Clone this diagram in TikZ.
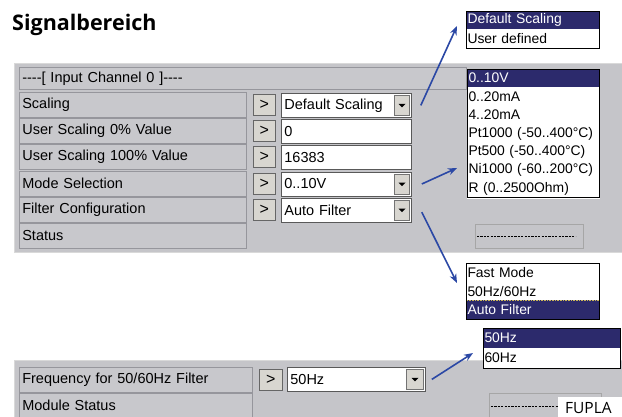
\documentclass[tikz,border=0pt]{standalone}
\usepackage{fontspec}
\setmainfont{Liberation Sans}
\newfontfamily\titlefont{Open Sans}
\usetikzlibrary{arrows.meta}
\definecolor{panelgray}{RGB}{197,197,201}
\definecolor{cellgray}{RGB}{200,200,204}
\definecolor{cellline}{RGB}{150,150,156}
\definecolor{btngray}{RGB}{216,214,208}
\definecolor{selblue}{RGB}{44,42,108}
\definecolor{arrowblue}{RGB}{43,72,165}
\definecolor{focusdot}{RGB}{200,180,90}
\begin{document}
\begin{tikzpicture}[x=1pt,y=-1pt,
  ui/.style={font=\fontsize{14.5}{16}\selectfont},
  popfont/.style={font=\fontsize{13.9}{16}\selectfont},
  lab/.style={ui, draw=cellline, fill=cellgray, line width=0.6pt, anchor=north west,
    minimum height=25pt, inner xsep=3pt, inner ysep=0pt, text width=#1, align=left},
  btn/.style={font=\fontsize{16}{16}\selectfont, draw=black!60, fill=btngray, line width=0.6pt, anchor=north west,
    minimum width=22pt, minimum height=21pt, inner sep=0pt},
  field/.style={ui, draw=black!65, fill=white, line width=0.8pt, anchor=north west,
    minimum height=24pt, inner xsep=3pt, inner ysep=0pt, text width=#1, align=left},
  ddbtn/.style={draw=black!55, fill=btngray, line width=0.6pt, anchor=east,
    minimum width=15pt, minimum height=20pt, inner sep=0pt},
  pop/.style={popfont, anchor=north west, inner xsep=1.5pt, inner ysep=0pt, text width=#1,
    align=left, minimum height=18.5pt, outer sep=0pt},
  plain/.style={fill=white, draw=white, line width=0.5pt},
  sel/.style={fill=selblue, text=white, draw=focusdot, densely dotted, line width=0.6pt},
  statbox/.style={draw=black!35, fill=panelgray, line width=0.6pt, anchor=north west, inner sep=0pt},
  arr/.style={draw=arrowblue, line width=1.6pt, -{Stealth[length=9pt,width=7pt]}}
]
\useasboundingbox (0,0) rectangle (622,416);
\clip (0,0) rectangle (622,416);
\fill[white] (0,0) rectangle (622,416);

% title
\node[anchor=base west, inner sep=0pt, font=\titlefont\bfseries\fontsize{21.5}{24}\selectfont] (title) at (12,30) {Signalbereich};

% ---------- upper panel ----------
\node[fill=panelgray, draw=white!85!black, line width=1pt, anchor=north west, minimum width=612pt, minimum height=189pt, inner sep=0pt] (panel1) at (14,63) {};
\node[lab=441pt, minimum height=22pt] (hdr) at (19,67) {-{}-{}-{}-[ Input Channel 0 ]-{}-{}-{}-};

\node[lab=221pt] (l1) at (19,92) {Scaling};
\node[lab=221pt] (l2) at (19,118.2) {User Scaling 0\% Value};
\node[lab=221pt] (l3) at (19,144.4) {User Scaling 100\% Value};
\node[lab=221pt] (l4) at (19,170.6) {Mode Selection};
\node[lab=221pt] (l5) at (19,196.8) {Filter Configuration};
\node[lab=221pt] (l6) at (19,223) {Status};

\node[btn] (b1) at (253,94) {>};
\node[btn] (b2) at (253,120.2) {>};
\node[btn] (b3) at (253,146.4) {>};
\node[btn] (b4) at (253,172.6) {>};
\node[btn] (b5) at (253,198.8) {>};

\node[field=124pt] (f1) at (281,93) {Default Scaling};
\node[field=124pt] (f2) at (281,119.2) {0};
\node[field=124pt] (f3) at (281,145.4) {16383};
\node[field=124pt] (f4) at (281,171.6) {0..10V};
\node[field=124pt] (f5) at (281,197.8) {Auto Filter};

\node[ddbtn] (d1) at ([xshift=-2pt]f1.east) {};
\node[ddbtn] (d4) at ([xshift=-2pt]f4.east) {};
\node[ddbtn] (d5) at ([xshift=-2pt]f5.east) {};
\foreach \d in {d1,d4,d5}{
  \fill ([shift={(-3.5,-1.5)}]\d.center) -- ++(7,0) -- ++(-3.5,3.5) -- cycle;
}

\node[statbox, minimum width=108pt, minimum height=24pt] (st1) at (475,224) {};
\draw[black, line width=0.6pt, dash pattern=on 2.2pt off 1.2pt] ([xshift=2pt]st1.west) -- ([xshift=-8pt]st1.east);

% ---------- lower panel ----------
\node[fill=panelgray, draw=white!85!black, line width=1pt, anchor=north west, minimum width=612pt, minimum height=70pt, inner sep=0pt] (panel2) at (14,360) {};
\node[lab=227pt] (l7) at (19,367) {Frequency for 50/60Hz Filter};
\node[lab=227pt] (l8) at (19,393) {Module Status};
\node[btn, minimum width=23pt] (b7) at (259,369) {>};
\node[field=132pt] (f7) at (287,367) {50Hz};
\node[ddbtn, minimum width=17pt] (d7) at ([xshift=-2pt]f7.east) {};
\fill ([shift={(-3.5,-1.5)}]d7.center) -- ++(7,0) -- ++(-3.5,3.5) -- cycle;

\node[statbox, minimum width=112pt, minimum height=26pt] (st2) at (489,393) {};
\draw[black, line width=0.6pt, dash pattern=on 2.2pt off 1.2pt] ([xshift=2pt]st2.west) -- ([xshift=-8pt]st2.east);

\node[fill=white, anchor=north west, minimum width=66pt, minimum height=22pt, inner sep=0pt] (fuplabox) at (558,397) {};
\node[anchor=base west, inner sep=0pt, font=\titlefont\fontsize{15.5}{18}\selectfont] (fupla) at (565,413.5) {FUPLA};

% ---------- popups ----------
\node[pop=130pt, sel] (p1a) at (466,11) {Default Scaling};
\node[pop=130pt, plain] (p1b) at (p1a.south west) {User defined};
\draw[black, line width=0.8pt] (p1a.north west) rectangle (p1b.south east);

\node[pop=129pt, sel, minimum height=18.4pt] (p2a) at (467,69) {0..10V};
\node[pop=129pt, plain, minimum height=18.4pt] (p2b) at (p2a.south west) {0..20mA};
\node[pop=129pt, plain, minimum height=18.4pt] (p2c) at (p2b.south west) {4..20mA};
\node[pop=129pt, plain, minimum height=18.4pt] (p2d) at (p2c.south west) {Pt1000 (-50..400°C)};
\node[pop=129pt, plain, minimum height=18.4pt] (p2e) at (p2d.south west) {Pt500 (-50..400°C)};
\node[pop=129pt, plain, minimum height=18.4pt] (p2f) at (p2e.south west) {Ni1000 (-60..200°C)};
\node[pop=129pt, plain, minimum height=18.4pt] (p2g) at (p2f.south west) {R (0..2500Ohm)};
\draw[black, line width=0.8pt] (p2a.north west) rectangle (p2g.south east);

\node[pop=130pt, plain, minimum height=18.7pt] (p3a) at (466,263) {Fast Mode};
\node[pop=130pt, plain, minimum height=18.7pt] (p3b) at (p3a.south west) {50Hz/60Hz};
\node[pop=130pt, sel, minimum height=18.7pt] (p3c) at (p3b.south west) {Auto Filter};
\draw[black, line width=0.8pt] (p3a.north west) rectangle (p3c.south east);

\node[pop=134pt, sel, minimum height=20pt] (p4a) at (483,328) {50Hz};
\node[pop=134pt, plain, minimum height=20pt] (p4b) at (p4a.south west) {60Hz};
\draw[black, line width=0.8pt] (p4a.north west) rectangle (p4b.south east);

% ---------- arrows ----------
\coordinate (t1) at (457,26);
\coordinate (t2) at (457,168);
\coordinate (t3) at (457,283);
\coordinate (t4) at (473,353);
\draw[arr] ([xshift=9pt]f1.east) -- (t1);
\draw[arr] ([xshift=10pt]f4.east) -- (t2);
\draw[arr] ([shift={(10,2)}]f5.east) -- (t3);
\draw[arr] ([xshift=6pt]f7.east) -- (t4);
\end{tikzpicture}
\end{document}
